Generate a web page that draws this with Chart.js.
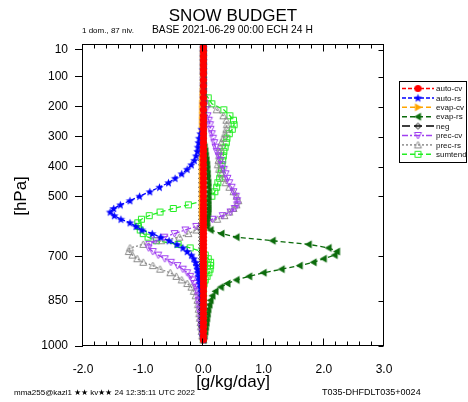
<!DOCTYPE html>
<html>
<head>
<meta charset="utf-8">
<title>Snow budget</title>
<script src="https://cdn.jsdelivr.net/npm/chart.js@4.4.1/dist/chart.umd.min.js"></script>
<style>
  html, body { margin: 0; padding: 0; background: #fff; }
  #wrap { width: 468px; height: 402px; }
  canvas { display: block; }
</style>
</head>
<body>
<div id="wrap"><canvas id="budget" width="468" height="402"></canvas></div>
<script>
// pressure of each model level (hPa)
const levels = [1, 16, 31, 46, 61, 76, 91,
  111, 130, 150, 170, 190, 210, 230,
  245, 260, 275, 290, 305, 320, 335,
  349, 364, 379, 394, 409, 424, 439,
  454, 469, 484, 499, 514, 528, 540,
  552, 564, 576, 588, 600, 612, 624,
  636, 648, 660, 672, 684, 696, 708,
  720, 731, 743, 755, 767, 779, 791,
  803, 817, 832, 847, 862, 877, 892,
  907, 922, 936, 951, 966, 979];

// tendencies per level (g/kg/day)
const autoCv = [0, 0, 0, 0, 0, 0, 0,
  0, 0, 0, 0, 0, 0, 0,
  0, 0, 0, 0, 0, 0, 0,
  0, 0, 0, 0, 0, 0, 0,
  0, 0, 0, 0, 0, 0, 0,
  0, 0, 0, 0, 0, 0, 0,
  0, 0, 0, 0, 0, 0, 0,
  0, 0, 0, 0, 0, 0, 0,
  0, 0, 0, 0, 0, 0, 0,
  0, 0, 0, 0, 0, 0];

const autoRs = [0, 0, 0, 0, 0, 0, 0,
  0, 0, 0, 0, 0, 0, 0,
  0, 0, -0.03, -0.05, -0.07, -0.08, -0.09,
  -0.1, -0.12, -0.15, -0.2, -0.27, -0.36, -0.47,
  -0.58, -0.73, -0.89, -1.06, -1.22, -1.38, -1.49,
  -1.55, -1.48, -1.37, -1.22, -1.12, -1.02, -0.85,
  -0.71, -0.57, -0.44, -0.34, -0.27, -0.2, -0.16,
  -0.13, -0.11, -0.1, -0.09, -0.08, -0.07, -0.06,
  -0.05, -0.04, -0.03, -0.02, -0.01, -0.01, -0.01,
  -0.01, -0.01, -0.01, -0.01, -0.01, 0];

const evapCv = [0, 0, 0, 0, 0, 0, 0,
  0, 0, -0.01, -0.01, -0.02, -0.02, -0.02,
  -0.02, -0.02, -0.02, -0.02, -0.02, -0.02, -0.02,
  -0.02, -0.02, -0.02, -0.02, -0.02, -0.02, -0.02,
  -0.02, -0.02, -0.02, -0.02, -0.02, -0.02, -0.02,
  -0.02, -0.02, -0.01, -0.01, 0, 0, 0,
  0, 0, 0, 0, 0, 0, 0,
  0, 0, 0, 0, 0, 0, 0,
  0, 0, 0, 0, 0, 0, 0,
  0, 0, 0, 0, 0, 0];

const evapRs = [0, 0, 0, 0, 0, 0, 0,
  0, 0, 0, 0, 0, 0, 0,
  0, 0, 0, 0, 0, 0, 0.02,
  0.03, 0.04, 0.05, 0.06, 0.06, 0.07, 0.07,
  0.08, 0.08, 0.08, 0.08, 0.08, 0.08, 0.08,
  0.08, 0.07, 0.06, 0.05, 0.06, 0.12, 0.3,
  0.55, 1.15, 1.75, 2.08, 2.22, 2.18, 2.0,
  1.83, 1.6, 1.3, 1.0, 0.76, 0.55, 0.4,
  0.29, 0.2, 0.15, 0.12, 0.1, 0.08, 0.07,
  0.06, 0.05, 0.04, 0.03, 0.02, 0];

const negFix = [0, 0, 0, 0, 0, 0, 0,
  0, 0, 0, 0, 0, 0, 0,
  0, 0, 0, 0, 0, 0, 0,
  -0.03, -0.03, -0.03, -0.03, -0.03, -0.03, -0.03,
  -0.03, -0.03, -0.03, -0.03, -0.03, -0.03, -0.03,
  -0.03, -0.03, -0.03, -0.03, -0.03, -0.03, -0.03,
  -0.03, -0.03, -0.03, -0.03, -0.03, -0.03, -0.03,
  -0.03, -0.03, -0.03, -0.03, -0.03, -0.03, -0.03,
  -0.03, -0.03, -0.03, -0.03, -0.03, -0.03, -0.03,
  -0.03, -0.03, -0.03, -0.02, -0.01, 0];

const precCv = [0, 0, 0, 0, 0, 0, 0,
  0, 0, 0, 0, 0.01, 0.04, 0.07,
  0.09, 0.11, 0.12, 0.14, 0.16, 0.18, 0.2,
  0.22, 0.25, 0.28, 0.31, 0.34, 0.37, 0.4,
  0.43, 0.47, 0.5, 0.54, 0.56, 0.56, 0.52,
  0.45, 0.32, 0.15, 0.02, -0.12, -0.3, -0.48,
  -0.65, -0.8, -0.9, -0.91, -0.84, -0.75, -0.64,
  -0.54, -0.43, -0.34, -0.27, -0.22, -0.18, -0.15,
  -0.12, -0.1, -0.09, -0.08, -0.07, -0.06, -0.05,
  -0.04, -0.04, -0.03, -0.02, -0.01, 0];

const precRs = [0, 0, 0, 0, 0, 0, 0,
  0, 0, 0, 0.01, 0.06, 0.22, 0.33,
  0.38, 0.39, 0.38, 0.36, 0.33, 0.3, 0.28,
  0.27, 0.26, 0.25, 0.24, 0.26, 0.3, 0.33,
  0.37, 0.43, 0.5, 0.55, 0.58, 0.55, 0.5,
  0.43, 0.35, 0.23, 0.06, -0.06, -0.12, -0.25,
  -0.4, -0.7, -1.0, -1.22, -1.24, -1.18, -1.1,
  -1.0, -0.84, -0.72, -0.55, -0.45, -0.36, -0.27,
  -0.2, -0.16, -0.13, -0.1, -0.09, -0.08, -0.07,
  -0.06, -0.05, -0.04, -0.03, -0.02, 0];

const sumTend = [0, 0, 0, 0, 0, 0, 0,
  0, 0, 0, 0.08, 0.14, 0.34, 0.44,
  0.5, 0.51, 0.48, 0.43, 0.39, 0.38, 0.36,
  0.34, 0.33, 0.32, 0.31, 0.3, 0.29, 0.27,
  0.24, 0.22, 0.19, 0.14, 0, -0.25, -0.5,
  -0.72, -0.9, -1.03, -1.09, -1.08, -1.05, -1.0,
  -0.92, -0.78, -0.42, -0.22, -0.02, 0.03, 0.08,
  0.12, 0.12, 0.11, 0.09, 0.06, 0.03, 0.01,
  0, 0, 0, 0, 0, 0, 0,
  0, 0, 0, 0, 0, 0];

const yTickValues = [10, 100, 200, 300, 400, 500, 700, 850, 1000];
const xTickValues = [-2, -1, 0, 1, 2, 3];

const FONT = '"Liberation Sans", Arial, Helvetica, sans-serif';

// small canvases used as point styles (plot and legend)
function makeMarker(shape, color) {
  const cv = document.createElement('canvas');
  cv.width = 11;
  cv.height = 11;
  const g = cv.getContext('2d');
  const c = 5.5;
  g.fillStyle = color;
  g.strokeStyle = color;
  g.lineWidth = 1;
  g.beginPath();
  if (shape === 'circle') {
    g.arc(c, c, 3.6, 0, Math.PI * 2);
    g.fill();
  } else if (shape === 'star') {
    for (let k = 0; k < 10; k++) {
      const r = k % 2 === 0 ? 4.4 : 1.9;
      const a = -Math.PI / 2 + k * Math.PI / 5;
      const px = c + r * Math.cos(a), py = c + 0.4 + r * Math.sin(a);
      k === 0 ? g.moveTo(px, py) : g.lineTo(px, py);
    }
    g.closePath();
    g.fill();
  } else if (shape === 'triRight') {
    g.moveTo(c + 4, c); g.lineTo(c - 3, c - 4); g.lineTo(c - 3, c + 4);
    g.closePath(); g.fill();
  } else if (shape === 'triLeft') {
    g.moveTo(c - 4, c); g.lineTo(c + 3, c - 4); g.lineTo(c + 3, c + 4);
    g.closePath(); g.fill();
  } else if (shape === 'diamond') {
    g.moveTo(c, c - 3); g.lineTo(c + 3, c); g.lineTo(c, c + 3); g.lineTo(c - 3, c);
    g.closePath(); g.stroke();
  } else if (shape === 'triDown') {
    g.moveTo(c - 3.5, c - 3); g.lineTo(c + 3.5, c - 3); g.lineTo(c, c + 3.5);
    g.closePath(); g.stroke();
  } else if (shape === 'triUp') {
    g.moveTo(c - 3.5, c + 3); g.lineTo(c + 3.5, c + 3); g.lineTo(c, c - 3.5);
    g.closePath(); g.stroke();
  } else if (shape === 'square') {
    g.rect(2.5, 2.5, 6, 6);
    g.stroke();
  }
  return cv;
}

const series = [
  { label: 'auto-cv', values: autoCv, color: '#ff0000', dash: [4, 2], shape: 'circle' },
  { label: 'auto-rs', values: autoRs, color: '#0000ff', dash: [4, 2], shape: 'star' },
  { label: 'evap-cv', values: evapCv, color: '#ffa500', dash: [5, 3], shape: 'triRight' },
  { label: 'evap-rs', values: evapRs, color: '#0b6b0b', dash: [5, 3], shape: 'triLeft' },
  { label: 'neg', values: negFix, color: '#000000', dash: [8, 4], shape: 'diamond' },
  { label: 'prec-cv', values: precCv, color: '#a040f0', dash: [6, 2, 2, 2], shape: 'triDown' },
  { label: 'prec-rs', values: precRs, color: '#8c8c8c', dash: [2, 2], shape: 'triUp' },
  { label: 'sumtend', values: sumTend, color: '#22ee22', dash: [5, 3], shape: 'square' }
];

const decor = {
  id: 'decor',
  beforeDraw(chart) {
    const ctx = chart.ctx;
    ctx.save();
    ctx.fillStyle = '#fff';
    ctx.fillRect(0, 0, chart.width, chart.height);
    ctx.restore();
  },
  afterDraw(chart) {
    const { ctx, chartArea: a } = chart;
    const xs = chart.scales.x, ys = chart.scales.y;
    ctx.save();
    ctx.strokeStyle = '#000';
    ctx.lineWidth = 1;
    ctx.setLineDash([]);

    // frame
    const L = Math.round(a.left) - 0.5, R = Math.round(a.right) - 0.5;
    const T = Math.round(a.top) + 0.5, B = Math.round(a.bottom) - 0.5;
    ctx.strokeRect(L, T, R - L, B - T);

    // minor/major ticks on top and bottom, pointing inward
    ctx.beginPath();
    for (let k = -10; k <= 15; k++) {
      const px = Math.round(xs.getPixelForValue(k / 5)) - 0.5;
      const len = k % 5 === 0 ? 7 : 4;
      ctx.moveTo(px, T); ctx.lineTo(px, T + len);
      ctx.moveTo(px, B); ctx.lineTo(px, B - len);
    }
    // right side ticks
    yTickValues.forEach(v => {
      const py = Math.round(ys.getPixelForValue(v)) + 0.5;
      ctx.moveTo(R, py); ctx.lineTo(R - 5, py);
    });
    ctx.stroke();

    // titles
    ctx.fillStyle = '#000';
    ctx.textBaseline = 'alphabetic';
    ctx.textAlign = 'center';
    ctx.font = '17px ' + FONT;
    ctx.fillText('SNOW BUDGET', 233, 21);
    ctx.textAlign = 'left';
    ctx.font = '8px ' + FONT;
    ctx.fillText('1 dom., 87 niv.', 82, 33);
    ctx.font = '10.3px ' + FONT;
    ctx.fillText('BASE 2021-06-29 00:00 ECH 24 H', 152, 33);

    // axis titles
    ctx.font = '17px ' + FONT;
    ctx.textAlign = 'center';
    ctx.fillText('[g/kg/day]', 233, 387);
    ctx.save();
    ctx.translate(26, 196);
    ctx.rotate(-Math.PI / 2);
    ctx.fillText('[hPa]', 0, 0);
    ctx.restore();

    // footers
    ctx.font = '8px ' + FONT;
    ctx.textAlign = 'left';
    ctx.fillText('mma255@kazl1 \u2605\u2605 kv\u2605\u2605 24 12:35:11 UTC 2022', 14, 395);
    ctx.font = '9px ' + FONT;
    ctx.fillText('T035-DHFDLT035+0024', 322, 395);

    // legend
    const lx = 399, ly = 81, lw = 67, lh = 81;
    ctx.fillStyle = '#fff';
    ctx.fillRect(lx, ly, lw, lh);
    ctx.strokeStyle = '#000';
    ctx.strokeRect(lx + 0.5, ly + 0.5, lw, lh);
    ctx.font = '8px ' + FONT;
    ctx.textBaseline = 'middle';
    chart.data.datasets.forEach((ds, i) => {
      const cy = ly + 7.5 + i * 9.4;
      ctx.strokeStyle = ds.borderColor;
      ctx.lineWidth = 1.5;
      ctx.setLineDash(ds.borderDash);
      ctx.beginPath();
      ctx.moveTo(402, cy);
      ctx.lineTo(434, cy);
      ctx.stroke();
      const img = ds.pointStyle;
      ctx.drawImage(img, 418 - img.width / 2, cy - img.height / 2);
      ctx.fillStyle = '#111';
      ctx.fillText(ds.label, 436, cy + 0.5);
    });
    ctx.restore();
  }
};

new Chart(document.getElementById('budget'), {
  type: 'scatter',
  data: {
    datasets: series.map(s => ({
      label: s.label,
      data: levels.map((p, i) => ({ x: s.values[i], y: p })),
      showLine: true,
      borderColor: s.color,
      backgroundColor: s.color,
      borderWidth: 1.3,
      borderDash: s.dash,
      pointStyle: makeMarker(s.shape, s.color),
      pointRadius: 3.5,
      pointHoverRadius: 3.5
    }))
  },
  options: {
    responsive: false,
    animation: false,
    devicePixelRatio: 1,
    layout: { padding: { left: 0, top: 44, right: 84, bottom: 0 } },
    plugins: {
      legend: { display: false },
      tooltip: { enabled: false }
    },
    scales: {
      x: {
        type: 'linear',
        min: -2,
        max: 3,
        afterFit: s => { s.height = 56; },
        afterBuildTicks: s => { s.ticks = xTickValues.map(v => ({ value: v })); },
        grid: { display: false, drawTicks: false },
        border: { display: false },
        ticks: {
          autoSkip: false,
          padding: 16,
          color: '#000',
          font: { family: FONT, size: 12 },
          callback: v => Number(v).toFixed(1)
        }
      },
      y: {
        type: 'linear',
        reverse: true,
        min: -10,
        max: 1000,
        afterFit: s => { s.width = 83; },
        afterBuildTicks: s => { s.ticks = yTickValues.map(v => ({ value: v })); },
        grid: { display: true, drawOnChartArea: false, drawTicks: true, tickLength: 8, color: '#000' },
        border: { display: false },
        ticks: {
          autoSkip: false,
          padding: 7,
          color: '#000',
          font: { family: FONT, size: 12 },
          callback: v => String(v)
        }
      }
    }
  },
  plugins: [decor]
});
</script>
</body>
</html>
